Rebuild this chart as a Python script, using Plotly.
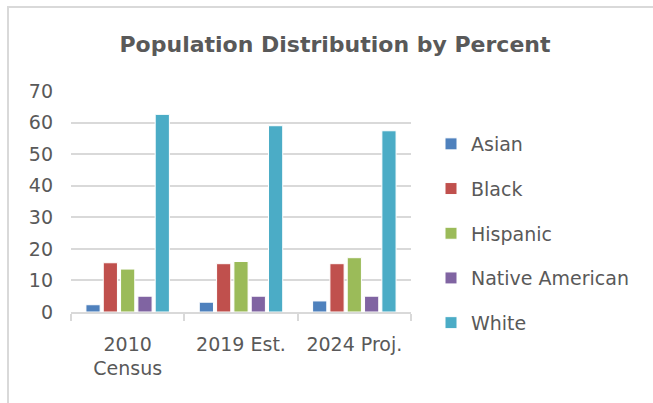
import plotly.graph_objects as go

categories = ["2010<br>Census", "2019 Est.", "2024 Proj."]
series_names = ["Asian", "Black", "Hispanic", "Native American", "White"]
asian = [2.3, 3.1, 3.5]
black = [15.6, 15.3, 15.3]
hispanic = [13.6, 16.0, 17.2]
native = [5.0, 5.0, 5.0]
white = [62.6, 59.0, 57.4]
colors = ["#4F81BD", "#C0504D", "#9BBB59", "#8064A2", "#4BACC6"]
y_ticks = [0, 10, 20, 30, 40, 50, 60, 70]

W, H = 653, 403
L, R, T, B = 71, 242, 91, 91
pw, ph = W - L - R, H - T - B

fig = go.Figure()
for name, vals, col in zip(series_names, [asian, black, hispanic, native, white], colors):
    fig.add_trace(go.Bar(x=categories, y=vals, name=name, legendgroup=name,
                         marker=dict(color=col, line=dict(color="white", width=1))))

text_col = "#595959"
font = "DejaVu Sans"

def px_x(p):
    return (p - L) / pw

def px_y(p):
    return (H - B - p) / ph

fig.update_layout(
    width=W, height=H,
    margin=dict(l=L, r=R, t=T, b=B),
    paper_bgcolor="white", plot_bgcolor="white",
    barmode="group", bargap=0.236, bargroupgap=0.18,
    title=dict(text="<b>Population Distribution by Percent</b>",
               x=px_x(335), xref="paper", xanchor="center",
               y=1 - 44 / H, yanchor="middle",
               font=dict(family="DejaVu Sans", size=22, color=text_col)),
    font=dict(family=font, size=19, color=text_col),
    legend=dict(x=px_x(431), xanchor="left", y=px_y(125), yanchor="top",
                tracegroupgap=17, maxheight=400,
                font=dict(family=font, size=19, color=text_col),
                bgcolor="rgba(0,0,0,0)"),
    showlegend=True,
    xaxis=dict(showline=True, linecolor="#D9D9D9", linewidth=1.5,
               ticks="outside", tickson="boundaries", ticklen=7, tickcolor="#D9D9D9",
               tickwidth=1.5, showgrid=False, ticklabelstandoff=14,
               tickfont=dict(family=font, size=19, color=text_col)),
    yaxis=dict(range=[0, 70], tickvals=y_ticks, showgrid=True, gridcolor="#D9D9D9",
               gridwidth=1.5, zeroline=False, showline=False,
               ticklabelstandoff=17,
               tickfont=dict(family=font, size=19, color=text_col)),
    shapes=[
        dict(type="line", xref="paper", yref="paper", x0=px_x(8), x1=px_x(8),
             y0=px_y(7), y1=px_y(H + 5), line=dict(color="#D9D9D9", width=2)),
        dict(type="line", xref="paper", yref="paper", x0=px_x(7), x1=px_x(W + 5),
             y0=px_y(7), y1=px_y(7), line=dict(color="#D9D9D9", width=2)),
    ],
)

fig.write_html("out.html")
